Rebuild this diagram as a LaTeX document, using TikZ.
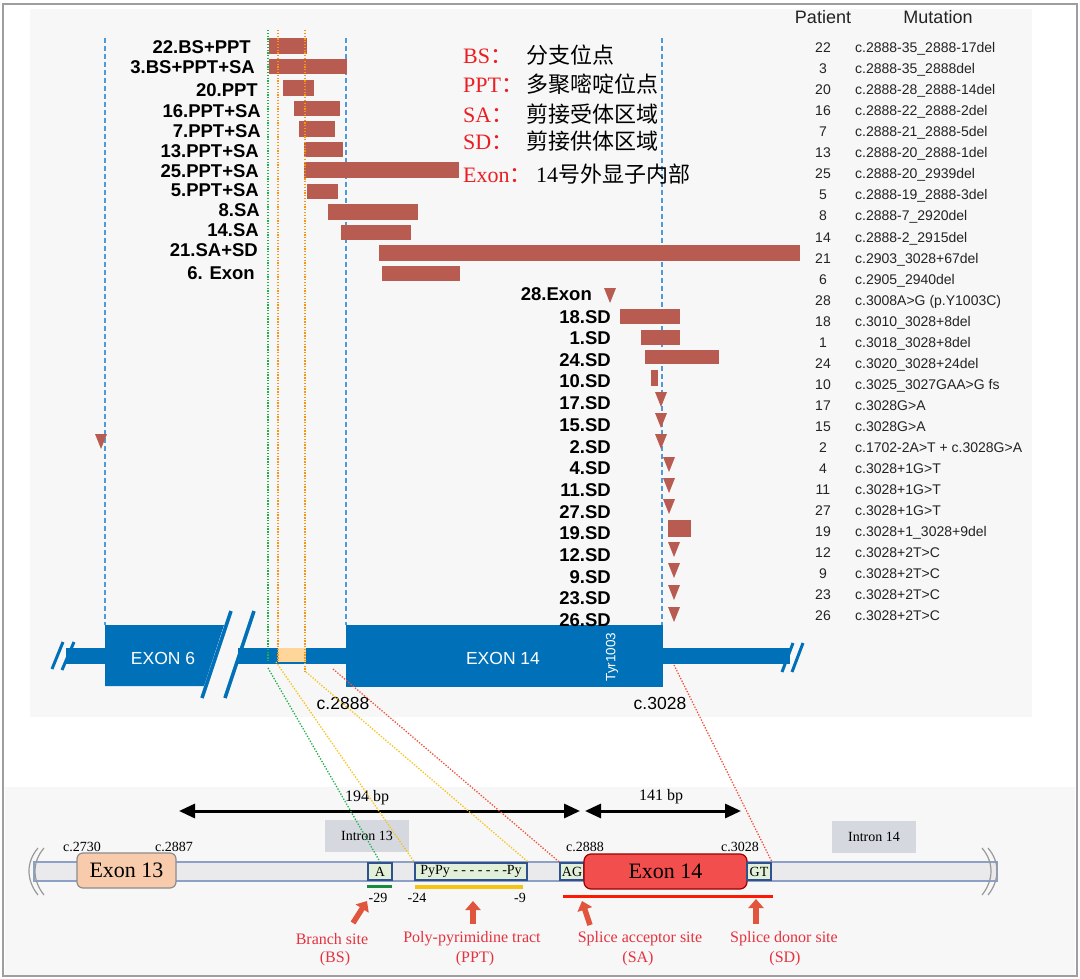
\documentclass[tikz,border=0pt]{standalone}
\usepackage{fontspec}
\setmainfont{Liberation Sans}
\newfontfamily\serifF{Liberation Serif}
\newfontfamily\cjk{Noto Sans CJK SC}
\usetikzlibrary{arrows.meta}
\definecolor{exblue}{RGB}{0,112,184}
\definecolor{barred}{RGB}{184,92,82}
\definecolor{dashblue}{RGB}{80,155,215}
\definecolor{dgreen}{RGB}{30,175,75}
\definecolor{dorange}{RGB}{245,150,25}
\definecolor{dyellow}{RGB}{245,195,20}
\definecolor{dred}{RGB}{240,80,55}
\definecolor{peach}{RGB}{255,214,153}
\definecolor{panel}{RGB}{247,247,247}
\definecolor{legred}{RGB}{235,30,35}
\definecolor{labred}{RGB}{228,50,62}
\definecolor{arrred}{RGB}{225,85,60}
\definecolor{boxgreen}{RGB}{226,240,217}
\definecolor{boxblue}{RGB}{47,82,143}
\definecolor{introngray}{RGB}{214,216,224}
\definecolor{barfill}{RGB}{234,234,236}
\definecolor{barline}{RGB}{140,160,200}
\definecolor{exthirteen}{RGB}{248,203,172}
\definecolor{exfourteen}{RGB}{243,78,78}
\definecolor{tabtext}{RGB}{35,35,35}
\newcommand\mtri[2]{\fill[barred] (#1-6,#2) -- (#1+6,#2) -- (#1,#2+15) -- cycle;}
\newcommand\mbar[4]{\fill[barred] (#1,#3) rectangle (#2,#4);}
\begin{document}
\begin{tikzpicture}[x=1pt,y=-1pt,
  lbl/.style={anchor=base east,inner sep=0pt,font=\fontsize{18.5}{20}\selectfont\bfseries},
  tab/.style={inner sep=0pt,text=tabtext,font=\fontsize{14}{14}\selectfont},
  hdr/.style={anchor=base,inner sep=0pt,text=tabtext,font=\fontsize{18}{18}\selectfont},
  leg/.style={anchor=base west,inner sep=0pt,font=\fontsize{22}{22}\selectfont},
  bluedash/.style={dashblue,line width=1.1pt,dash pattern=on 5pt off 3pt},
  dotl/.style={line width=1.5pt,dash pattern=on 1.3pt off 1.5pt},
  diag/.style={line width=1.3pt,dash pattern=on 1.3pt off 1.6pt},
  sbox/.style={draw=boxblue,line width=1.8pt,fill=boxgreen,inner sep=0pt,minimum height=17.5pt,font=\serifF\fontsize{14}{14}\selectfont},
  ibox/.style={fill=introngray,inner sep=0pt,minimum width=84pt,minimum height=32pt,font=\serifF\fontsize{14}{14}\selectfont},
  small/.style={inner sep=0pt,font=\serifF\fontsize{14}{14}\selectfont},
  redlab/.style={inner sep=0pt,text=labred,font=\serifF\fontsize{16}{16}\selectfont},
  redarr/.style={arrred,line width=5.5pt,-{Triangle[length=9pt,width=15pt]}},
  dbl/.style={line width=3pt,{Triangle[length=16pt,width=14pt]}-{Triangle[length=16pt,width=14pt]}},
  exlab/.style={inner sep=0pt,text=white,font=\fontsize{17.5}{18}\selectfont}
]
\useasboundingbox (0,0) rectangle (1080,979);
\fill[white] (0,0) rectangle (1080,979);
\fill[panel] (30,9) rectangle (1032,717);
\fill[panel] (5,787) rectangle (1075,975);
\draw[black!38,line width=2pt] (3,4) rectangle (1077,976);

% ---- blue dashed guides
\draw[bluedash] (105,38) -- (105,625);
\draw[bluedash] (346,38) -- (346,625);
\draw[bluedash] (662,38) -- (662,625);

% ---- deletion bars (upper group)
\mbar{269}{307}{38}{54}
\mbar{269}{347}{59}{74}
\mbar{283}{314}{80}{96}
\mbar{294}{340}{101}{116}
\mbar{299}{335}{121}{137}
\mbar{304}{343}{142}{157}
\mbar{304}{459}{162}{178}
\mbar{307}{338}{184}{199}
\mbar{328}{418}{204}{220}
\mbar{341}{411}{225}{240}
\mbar{379}{800}{245}{261}
\mbar{382}{460}{266}{281}
% ---- lower group
\mbar{620}{680}{309}{324}
\mbar{641}{680}{330}{345}
\mbar{645}{719}{350}{364}
\mbar{651}{658}{370}{386}
\mbar{668}{691}{520}{537}
\mtri{610}{288}
\mtri{661}{392}
\mtri{661}{413}
\mtri{661}{434}
\mtri{669}{457}
\mtri{669}{478}
\mtri{669}{499}
\mtri{674}{542}
\mtri{674}{563}
\mtri{674}{585}
\mtri{674}{607}
\mtri{101}{434}

% ---- gene model (top)
\fill[exblue] (66,648) rectangle (105,664);
\draw[exblue,line width=3pt] (63,642) -- (52,669);
\draw[exblue,line width=3pt] (74,642) -- (62,670);
\fill[exblue] (105,625) -- (224,625) -- (204,686) -- (105,686) -- cycle;
\draw[exblue,line width=3.5pt] (231,611) -- (202,698);
\fill[exblue] (238,648) rectangle (346,664);
\draw[exblue,line width=3.5pt] (254,611) -- (225,698);
\fill[peach] (278,648) rectangle (306,662);
\fill[exblue] (346,625) rectangle (663,687);
\fill[exblue] (663,648) rectangle (790,664);
\draw[exblue,line width=3pt] (793,643) -- (782,672);
\draw[exblue,line width=3pt] (803,643) -- (792,672);
\node[exlab] (ex6) at (163,658) {EXON 6};
\node[exlab] (ex14t) at (503,658) {EXON 14};
\node[exlab,rotate=90,font=\fontsize{13.5}{14}\selectfont] (tyr) at (612,657) {Tyr1003};
\node[inner sep=0pt,font=\fontsize{17.5}{18}\selectfont] (c2888t) at (343,703) {c.2888};
\node[inner sep=0pt,font=\fontsize{17.5}{18}\selectfont] (c3028t) at (660,703) {c.3028};

% ---- vertical dotted guides
\draw[dgreen,dotl] (268,30) -- (268,662);
\draw[dorange,dotl] (278,30) -- (278,662);
\draw[dorange,dotl] (305,30) -- (305,672);

% ---- left labels
\foreach \t/\x/\y [count=\i] in {22.BS+PPT/251/47, 3.BS+PPT+SA/255/67, 20.PPT/258/90, 16.PPT+SA/261/111, 7.PPT+SA/261/131, 13.PPT+SA/259/151, 25.PPT+SA/259/171, 5.PPT+SA/259/190, 8.SA/260/210, 14.SA/259/230, 21.SA+SD/258/250, 6. Exon/255/273}
  \node[lbl] (L\i) at (\x,\y+6.6) {\t};
\foreach \t/\x/\y [count=\i] in {28.Exon/592/294, 18.SD/611/317, 1.SD/611/338, 24.SD/611/360, 10.SD/611/381, 17.SD/611/403, 15.SD/611/425, 2.SD/611/447, 4.SD/611/468, 11.SD/611/490, 27.SD/611/512, 19.SD/611/533, 12.SD/611/555, 9.SD/611/577, 23.SD/611/598, 26.SD/611/620}
  \node[lbl] (R\i) at (\x,\y+6.6) {\t};

% ---- legend
\node[leg] (lg1) at (463,63.5) {\serifF\color{legred}BS{\cjk ：}};
\node[leg] (lg2) at (463,92.5) {\serifF\color{legred}PPT{\cjk ：}};
\node[leg] (lg3) at (463,122.5) {\serifF\color{legred}SA{\cjk ：}};
\node[leg] (lg4) at (463,149.5) {\serifF\color{legred}SD{\cjk ：}};
\node[leg] (lg5) at (463,182.5) {\serifF\color{legred}Exon{\cjk ：}};
\node[leg] (lt1) at (526,63.5) {\cjk 分支位点};
\node[leg] (lt2) at (526,92.5) {\cjk 多聚嘧啶位点};
\node[leg] (lt3) at (526,122.5) {\cjk 剪接受体区域};
\node[leg] (lt4) at (526,149.5) {\cjk 剪接供体区域};
\node[leg] (lt5) at (536,182.5) {\serifF 14\cjk 号外显子内部};

% ---- table
\node[hdr] (hp) at (823,23.5) {Patient};
\node[hdr] (hm) at (938,23.5) {Mutation};
\foreach \p/\m [count=\i from 0] in {22/{c.2888-35\_2888-17del}, 3/{c.2888-35\_2888del}, 20/{c.2888-28\_2888-14del}, 16/{c.2888-22\_2888-2del}, 7/{c.2888-21\_2888-5del}, 13/{c.2888-20\_2888-1del}, 25/{c.2888-20\_2939del}, 5/{c.2888-19\_2888-3del}, 8/{c.2888-7\_2920del}, 14/{c.2888-2\_2915del}, 21/{c.2903\_3028+67del}, 6/{c.2905\_2940del}, 28/{c.3008A>G (p.Y1003C)}, 18/{c.3010\_3028+8del}, 1/{c.3018\_3028+8del}, 24/{c.3020\_3028+24del}, 10/{c.3025\_3027GAA>G fs}, 17/{c.3028G>A}, 15/{c.3028G>A}, 2/{c.1702-2A>T + c.3028G>A}, 4/{c.3028+1G>T}, 11/{c.3028+1G>T}, 27/{c.3028+1G>T}, 19/{c.3028+1\_3028+9del}, 12/{c.3028+2T>C}, 9/{c.3028+2T>C}, 23/{c.3028+2T>C}, 26/{c.3028+2T>C}}
{
  \node[tab,anchor=base] (tp\i) at (823,48+21*\i+5) {\p};
  \node[tab,anchor=base west] (tm\i) at (855,48+21*\i+5) {\m};
}

% ---- bottom panel: scale bars
\coordinate (a1) at (179,811);
\coordinate (a2) at (580,811);
\coordinate (b1) at (585,811);
\coordinate (b2) at (741,811);
\draw[dbl] (a1) -- (a2);
\draw[dbl] (b1) -- (b2);
\node[inner sep=0pt,font=\serifF\fontsize{16}{16}\selectfont] (bp194) at (367,798) {194 bp};
\node[inner sep=0pt,font=\serifF\fontsize{16}{16}\selectfont] (bp141) at (661,797) {141 bp};
\node[ibox] (in13) at (367,836) {Intron 13};
\node[ibox] (in14) at (874,837) {Intron 14};

% ---- bottom panel: gene bar
\draw[barline,fill=barfill,line width=1.2pt] (34,862) rectangle (997,881);
\draw[black!40,line width=1.2pt] (38,848) .. controls (26,862) and (26,880) .. (38,895);
\draw[black!40,line width=1.2pt] (44,848) .. controls (32,862) and (32,880) .. (44,895);
\draw[black!40,line width=1.2pt] (982,848) .. controls (994,862) and (994,880) .. (982,895);
\draw[black!40,line width=1.2pt] (988,848) .. controls (1000,862) and (1000,880) .. (988,895);
\node[draw=black!45,fill=exthirteen,rounded corners=6pt,line width=1.2pt,minimum width=99pt,minimum height=35pt,inner sep=0pt,font=\serifF\fontsize{22}{22}\selectfont] (e13) at (126.5,870.5) {Exon 13};
\node[sbox,minimum width=24pt] (A) at (380,871.5) {A};
\node[sbox,minimum width=112pt] (Py) at (471,871.5) {PyPy - - - - - - -Py};
\node[sbox,minimum width=24pt] (AG) at (572,871.5) {AG};
\node[draw=red!60!black,fill=exfourteen,rounded corners=7pt,line width=1.2pt,minimum width=163pt,minimum height=35pt,inner sep=0pt,font=\serifF\fontsize{22}{22}\selectfont] (e14) at (665.5,871.5) {Exon 14};
\node[sbox,minimum width=24pt] (GT) at (759,871.5) {GT};
\node[small] (c2730) at (82,847) {c.2730};
\node[small] (c2887) at (174,847) {c.2887};
\node[small] (c2888) at (585,847) {c.2888};
\node[small] (c3028) at (740,847) {c.3028};
\draw[dgreen!80!black,line width=3pt] (367,886) -- (392,886);
\draw[dyellow,line width=4pt] (415,887) -- (523,887);
\draw[red!80!orange,line width=3pt] (563,896) -- (773,896);
\node[small] (m29) at (378,898) {-29};
\node[small] (m24) at (417,898) {-24};
\node[small] (m9) at (520,898) {-9};

% ---- connectors top -> bottom
\coordinate (gS) at (268,668);
\coordinate (y1S) at (276,662);
\coordinate (y2S) at (306,672);
\coordinate (r1S) at (333,669);
\coordinate (r2S) at (674,665);
\draw[dgreen,diag] (gS) -- (A.north);
\draw[dyellow,diag] (y1S) -- (Py.north west);
\draw[dyellow,diag] (y2S) -- (Py.north east);
\draw[dred,diag] (r1S) -- (AG.north west);
\draw[dred,diag] (r2S) -- (GT.north east);

% ---- red arrows and labels
\node[redlab] (bs1) at (332,939) {Branch site};
\node[redlab] (bs2) at (335,959) {(BS)};
\node[redlab] (pp1) at (472,939) {Poly-pyrimidine tract};
\node[redlab] (pp2) at (475,959) {(PPT)};
\node[redlab] (sa1) at (640,939) {Splice acceptor site};
\node[redlab] (sa2) at (638,959) {(SA)};
\node[redlab] (sd1) at (784,939) {Splice donor site};
\node[redlab] (sd2) at (785,959) {(SD)};
\coordinate (bsT) at (367,901);
\coordinate (ppT) at (473,901);
\coordinate (saT) at (582,901);
\coordinate (sdT) at (756,899);
\draw[redarr] (353,923) -- (bsT);
\draw[redarr] (473,924) -- (ppT);
\draw[redarr] (590,925) -- (saT);
\draw[redarr] (756,924) -- (sdT);
\end{tikzpicture}
\end{document}
